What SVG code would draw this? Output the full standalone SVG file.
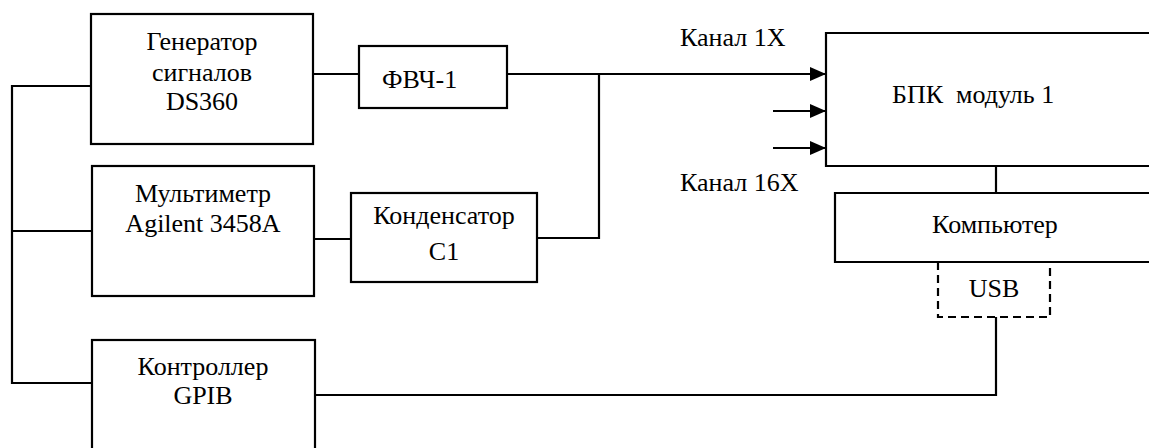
<svg xmlns="http://www.w3.org/2000/svg" width="1149" height="448" viewBox="0 0 1149 448">
<style>
.box{fill:none;stroke:#000;stroke-width:2.2}
.ln{fill:none;stroke:#000;stroke-width:2.2}
.dash{fill:none;stroke:#000;stroke-width:2.2;stroke-dasharray:8,5}
text{font-family:'Liberation Serif', serif;font-size:26px;fill:#000}
.c{text-anchor:middle}
</style>
<defs>
<marker id="ah" markerUnits="userSpaceOnUse" markerWidth="16" markerHeight="14" refX="16" refY="7" orient="auto">
<path d="M0,0 L16,7 L0,14 Z" fill="#000"/>
</marker>
</defs>
<rect width="1149" height="448" fill="#fff"/>
<g id="connectors">
<polyline class="ln" points="91,86 12,86 12,383 92,383"/>
<line class="ln" x1="12" y1="231" x2="92" y2="231"/>
<line class="ln" x1="313" y1="74" x2="359" y2="74"/>
<line class="ln" x1="507" y1="74" x2="826" y2="74" marker-end="url(#ah)"/>
<line class="ln" x1="773" y1="111" x2="826" y2="111" marker-end="url(#ah)"/>
<line class="ln" x1="773" y1="148" x2="826" y2="148" marker-end="url(#ah)"/>
<polyline class="ln" points="599,74 599,238 537,238"/>
<line class="ln" x1="314" y1="239" x2="351" y2="239"/>
<line class="ln" x1="996" y1="166" x2="996" y2="193"/>
<polyline class="ln" points="315,395 996,395 996,317"/>
</g>
<g id="gen">
<rect class="box" x="91" y="14" width="222" height="130"/>
<text class="c" x="202" y="50">Генератор</text>
<text class="c" x="202" y="81">сигналов</text>
<text class="c" x="202" y="110">DS360</text>
</g>
<g id="multimeter">
<rect class="box" x="92" y="166" width="222" height="130"/>
<text class="c" x="203" y="202">Мультиметр</text>
<text class="c" x="203" y="232">Agilent 3458A</text>
</g>
<g id="controller">
<rect class="box" x="92" y="340" width="223" height="120"/>
<text class="c" x="203" y="375">Контроллер</text>
<text class="c" x="203" y="404">GPIB</text>
</g>
<g id="fvch">
<rect class="box" x="359" y="46" width="148" height="62"/>
<text x="382" y="88">ФВЧ-1</text>
</g>
<g id="cond">
<rect class="box" x="351" y="193" width="186" height="89"/>
<text class="c" x="444" y="224">Конденсатор</text>
<text class="c" x="444" y="260">С1</text>
</g>
<g id="bpk">
<polyline class="box" points="1152,33 826,33 826,166 1152,166"/>
<text x="892" y="103" xml:space="preserve">БПК  модуль 1</text>
</g>
<g id="computer">
<polyline class="box" points="1152,193 835,193 835,262 1152,262"/>
<text class="c" x="995" y="233">Компьютер</text>
</g>
<g id="usb">
<polyline class="dash" points="938,262 938,317 1050,317 1050,262"/>
<text class="c" x="994" y="297">USB</text>
</g>
<g id="labels">
<text x="680" y="46">Канал 1X</text>
<text x="680" y="191">Канал 16X</text>
</g>
</svg>
